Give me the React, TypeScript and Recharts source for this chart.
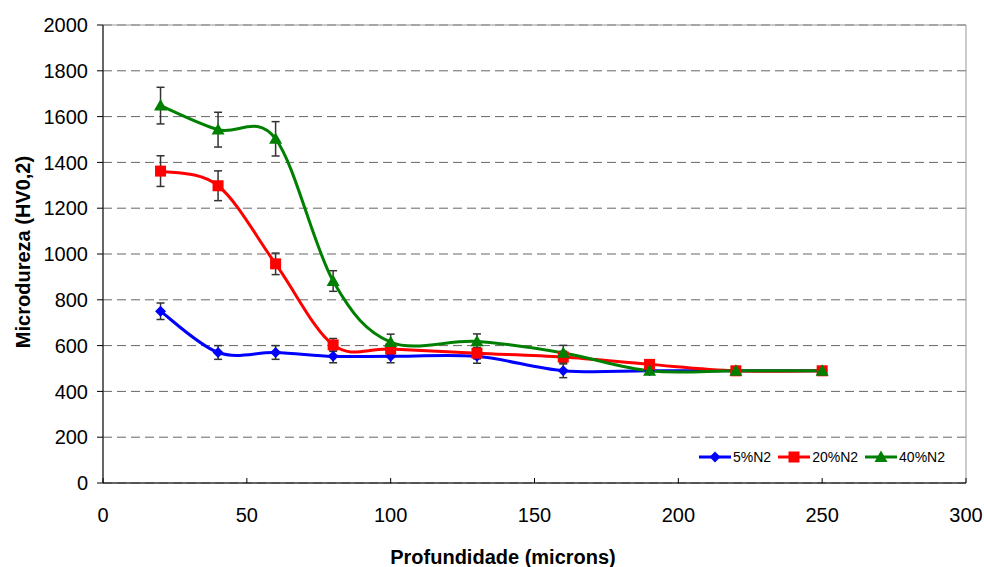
import React from "react";
import { CartesianGrid, ErrorBar, Line, LineChart, ReferenceArea, XAxis, YAxis } from "recharts";

const depths = [20, 40, 60, 80, 100, 130, 160, 190, 220, 250];

const n5 = [750, 570, 570, 553, 553, 553, 490, 490, 490, 490];
const n5Err = [36, 30, 30, 28, 28, 30, 30, 0, 0, 0];

const n20 = [1362, 1298, 957, 603, 585, 567, 550, 518, 490, 490];
const n20Err = [67, 65, 47, 28, 25, 25, 25, 0, 0, 0];

const n40 = [1648, 1543, 1503, 882, 615, 618, 568, 490, 490, 490];
const n40Err = [80, 76, 75, 45, 35, 33, 33, 0, 0, 0];

const xTicks = [0, 50, 100, 150, 200, 250, 300];
const yTicks = [0, 200, 400, 600, 800, 1000, 1200, 1400, 1600, 1800, 2000];

const data = depths.map((x, i) => ({
  x,
  n5: n5[i],
  n5Err: n5Err[i],
  n20: n20[i],
  n20Err: n20Err[i],
  n40: n40[i],
  n40Err: n40Err[i],
}));

const FONT = "'Liberation Sans', Arial, sans-serif";

// excel-like smoothed line (catmull-rom in pixel space)
function excelSmooth(context: any) {
  let xs: number[] = [];
  let ys: number[] = [];
  return {
    areaStart() {},
    areaEnd() {},
    lineStart() {
      xs = [];
      ys = [];
    },
    point(x: number, y: number) {
      xs.push(+x);
      ys.push(+y);
    },
    lineEnd() {
      const n = xs.length;
      if (!n) return;
      context.moveTo(xs[0], ys[0]);
      const t = 1 / 6;
      for (let i = 0; i < n - 1; i++) {
        const a = Math.max(i - 1, 0);
        const d = Math.min(i + 2, n - 1);
        context.bezierCurveTo(
          xs[i] + (xs[i + 1] - xs[a]) * t,
          ys[i] + (ys[i + 1] - ys[a]) * t,
          xs[i + 1] - (xs[d] - xs[i]) * t,
          ys[i + 1] - (ys[d] - ys[i]) * t,
          xs[i + 1],
          ys[i + 1]
        );
      }
    },
  };
}

const Diamond = ({ cx, cy, fill }: any) => {
  const r = 5.5;
  return <polygon points={`${cx},${cy - r} ${cx + r},${cy} ${cx},${cy + r} ${cx - r},${cy}`} fill={fill} />;
};

const Square = ({ cx, cy, fill }: any) => <rect x={cx - 5.5} y={cy - 5.5} width={11} height={11} fill={fill} />;

const Triangle = ({ cx, cy, fill }: any) => {
  const r = 6.5;
  return <polygon points={`${cx},${cy - r} ${cx + r},${cy + r * 0.75} ${cx - r},${cy + r * 0.75}`} fill={fill} />;
};

const XTick = ({ x, y, payload }: any) => (
  <g>
    <line x1={x} x2={x} y1={y} y2={y - 5} stroke="#000" />
    <text x={x} y={y + 39} textAnchor="middle" fontSize={20} fontFamily={FONT} fill="#000">
      {payload.value}
    </text>
  </g>
);

const legendItems = [
  { name: "5%N2", color: "#0000FF", Mark: Diamond },
  { name: "20%N2", color: "#FF0000", Mark: Square },
  { name: "40%N2", color: "#008000", Mark: Triangle },
];

export default function App() {
  return (
    <div style={{ position: "absolute", left: 0, top: 0, width: 984, height: 567, background: "#fff", fontFamily: FONT }}>
      <LineChart width={984} height={567} data={data} margin={{ top: 25, right: 18, bottom: 0, left: 0 }}>
        <CartesianGrid vertical={false} stroke="#666" strokeDasharray="9 5" />
        <ReferenceArea x1={0} x2={300} y1={0} y2={2000} fill="none" stroke="#999" strokeWidth={1} />
        <XAxis
          type="number"
          dataKey="x"
          domain={[0, 300]}
          ticks={xTicks}
          height={84}
          tickSize={0}
          tickMargin={0}
          tickLine={false}
          axisLine={{ stroke: "#000" }}
          tick={<XTick />}
          interval={0}
        />
        <YAxis
          type="number"
          domain={[0, 2000]}
          ticks={yTicks}
          width={103}
          tickSize={6}
          tickMargin={9}
          tickLine={{ stroke: "#000" }}
          axisLine={{ stroke: "#000" }}
          tick={{ fontSize: 20, fill: "#000", fontFamily: FONT }}
          interval={0}
        />
        <Line
          type={excelSmooth as any}
          dataKey="n5"
          stroke="#0000FF"
          strokeWidth={3}
          dot={<Diamond fill="#0000FF" />}
          activeDot={false}
          isAnimationActive={false}
        >
          <ErrorBar dataKey="n5Err" width={4} stroke="#333" strokeWidth={1.5} direction="y" />
        </Line>
        <Line
          type={excelSmooth as any}
          dataKey="n20"
          stroke="#FF0000"
          strokeWidth={3}
          dot={<Square fill="#FF0000" />}
          activeDot={false}
          isAnimationActive={false}
        >
          <ErrorBar dataKey="n20Err" width={4} stroke="#333" strokeWidth={1.5} direction="y" />
        </Line>
        <Line
          type={excelSmooth as any}
          dataKey="n40"
          stroke="#008000"
          strokeWidth={3}
          dot={<Triangle fill="#008000" />}
          activeDot={false}
          isAnimationActive={false}
        >
          <ErrorBar dataKey="n40Err" width={4} stroke="#333" strokeWidth={1.5} direction="y" />
        </Line>
      </LineChart>

      <div
        style={{
          position: "absolute",
          left: 23,
          top: 252,
          transform: "translate(-50%, -50%) rotate(-90deg)",
          whiteSpace: "nowrap",
          fontSize: 20,
          fontWeight: "bold",
        }}
      >
        Microdureza (HV0,2)
      </div>
      <div
        style={{
          position: "absolute",
          left: 503,
          top: 557,
          transform: "translate(-50%, -50%)",
          whiteSpace: "nowrap",
          fontSize: 20,
          fontWeight: "bold",
        }}
      >
        Profundidade (microns)
      </div>

      <div style={{ position: "absolute", left: 699, top: 448, display: "flex", alignItems: "center", height: 18 }}>
        {legendItems.map(({ name, color, Mark }) => (
          <div key={name} style={{ display: "flex", alignItems: "center", marginRight: 7 }}>
            <svg width={32} height={16}>
              <line x1={0} x2={32} y1={8} y2={8} stroke={color} strokeWidth={3} />
              <Mark cx={16} cy={8} fill={color} />
            </svg>
            <span style={{ fontSize: 14, marginLeft: 2, color: "#000" }}>{name}</span>
          </div>
        ))}
      </div>
    </div>
  );
}
